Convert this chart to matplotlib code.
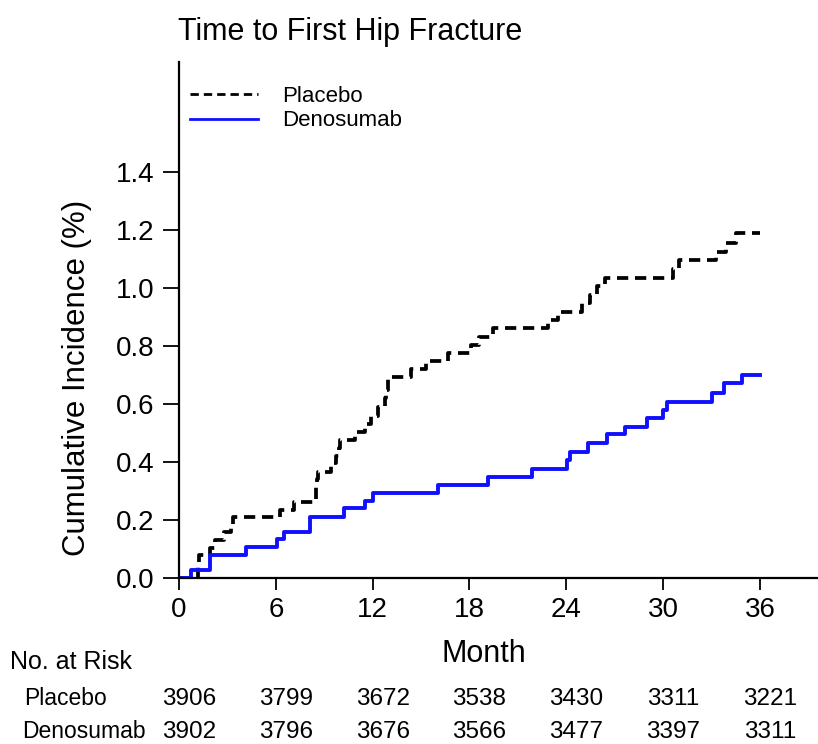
import matplotlib
matplotlib.use("Agg")
import matplotlib.pyplot as plt

plt.rcParams['font.family'] = ['Liberation Sans', 'DejaVu Sans']

# Courbes de Kaplan-Meier (incidence cumulée, %) : temps en mois, valeur après le saut
mois_placebo = [0, 1.15, 1.2, 1.25, 1.9, 2.2, 2.8, 3.2, 3.35, 6.25, 7.1,
                8.5, 8.52, 8.55, 8.6, 9.45, 9.75, 9.9, 9.95, 10.9, 11.5,
                11.9, 12.35, 12.75, 12.85, 12.95, 14.4, 15.3, 16.7, 18.1,
                18.6, 19.45, 22.85, 23.5, 25.0, 25.5, 25.9, 26.4, 30.6,
                31.0, 33.3, 33.9, 34.5, 36.0]
inc_placebo = [0, 0.026, 0.052, 0.079, 0.105, 0.131, 0.157, 0.183, 0.209,
               0.236, 0.263, 0.289, 0.315, 0.341, 0.367, 0.395, 0.422,
               0.449, 0.476, 0.503, 0.531, 0.559, 0.59, 0.62, 0.648, 0.692,
               0.72, 0.749, 0.776, 0.803, 0.83, 0.861, 0.89, 0.918, 0.947,
               0.977, 1.007, 1.036, 1.065, 1.097, 1.125, 1.154, 1.189, 1.189]

mois_deno = [0, 0.72, 1.92, 1.95, 4.15, 6.1, 6.5, 8.1, 8.12, 10.2, 11.5,
             12.0, 16.06, 19.15, 21.9, 24.05, 24.2, 25.35, 26.5, 27.65,
             29.0, 30.0, 30.25, 33.0, 33.8, 34.9, 36.0]
inc_deno = [0, 0.027, 0.053, 0.079, 0.106, 0.133, 0.16, 0.186, 0.211,
            0.24, 0.267, 0.294, 0.321, 0.347, 0.376, 0.407, 0.436, 0.467,
            0.495, 0.522, 0.551, 0.579, 0.608, 0.637, 0.671, 0.701, 0.701]

# Nombre de patients à risque
mois_risque = [0, 6, 12, 18, 24, 30, 36]
risque_placebo = [3906, 3799, 3672, 3538, 3430, 3311, 3221]
risque_deno = [3902, 3796, 3676, 3566, 3477, 3397, 3311]

W, H = 818, 744
fig = plt.figure(figsize=(W / 100, H / 100), dpi=100)

x0, x1, y0, y1 = 179, 818, 62, 578  # cadre du graphe (pixels)
ax = fig.add_axes([x0 / W, 1 - y1 / H, (x1 - x0) / W, (y1 - y0) / H])

ax.step(mois_placebo, inc_placebo, where='post', color='black', lw=2.7,
        linestyle=(0, (3.0, 1.8)), label='Placebo')
ax.step(mois_deno, inc_deno, where='post', color='#1010ff', lw=2.8,
        label='Denosumab')

ax.set_xlim(0, 39.6)
ax.set_ylim(0, 1.779)
ax.set_xticks(mois_risque)
ax.set_yticks([0.0, 0.2, 0.4, 0.6, 0.8, 1.0, 1.2, 1.4])
ax.set_yticklabels(['%.1f' % v for v in ax.get_yticks()])

for s in ['top', 'right']:
    ax.spines[s].set_visible(False)
for s in ['left', 'bottom']:
    ax.spines[s].set_linewidth(1.6)
ax.tick_params(axis='x', length=8.6, width=1.3, pad=5, labelsize=20)
ax.tick_params(axis='y', length=11.5, width=1.3, pad=6, labelsize=20)

leg = ax.legend(loc='upper left', bbox_to_anchor=(190 / W, 1 - 86 / H),
                bbox_transform=fig.transFigure, frameon=False, fontsize=16,
                handlelength=3.05, handletextpad=1.1, labelspacing=0.15,
                borderpad=0, borderaxespad=0)
for ligne in leg.get_lines():
    ligne.set_linewidth(2.0)

fig.text(178 / W, 1 - 40 / H, 'Time to First Hip Fracture', fontsize=22,
         ha='left', va='baseline')
fig.text(77 / W, 1 - 378 / H, 'Cumulative Incidence (%)', fontsize=22.5,
         rotation=90, ha='center', va='center')
fig.text(484 / W, 1 - 662 / H, 'Month', fontsize=22, ha='center',
         va='baseline')

# Tableau des patients à risque
fig.text(10 / W, 1 - 669 / H, 'No. at Risk', fontsize=18, va='baseline')
fig.text(24 / W, 1 - 705 / H, 'Placebo', fontsize=16.5, va='baseline')
fig.text(22 / W, 1 - 738 / H, 'Denosumab', fontsize=16.5, va='baseline')
for m_, rp, rd in zip(mois_risque, risque_placebo, risque_deno):
    xpix = x0 + m_ * (x1 - x0) / 39.6 + 10
    fig.text(xpix / W, 1 - 705 / H, str(rp), fontsize=17.5, ha='center',
             va='baseline')
    fig.text(xpix / W, 1 - 738 / H, str(rd), fontsize=17.5, ha='center',
             va='baseline')

fig.savefig('out.png', dpi=100)
